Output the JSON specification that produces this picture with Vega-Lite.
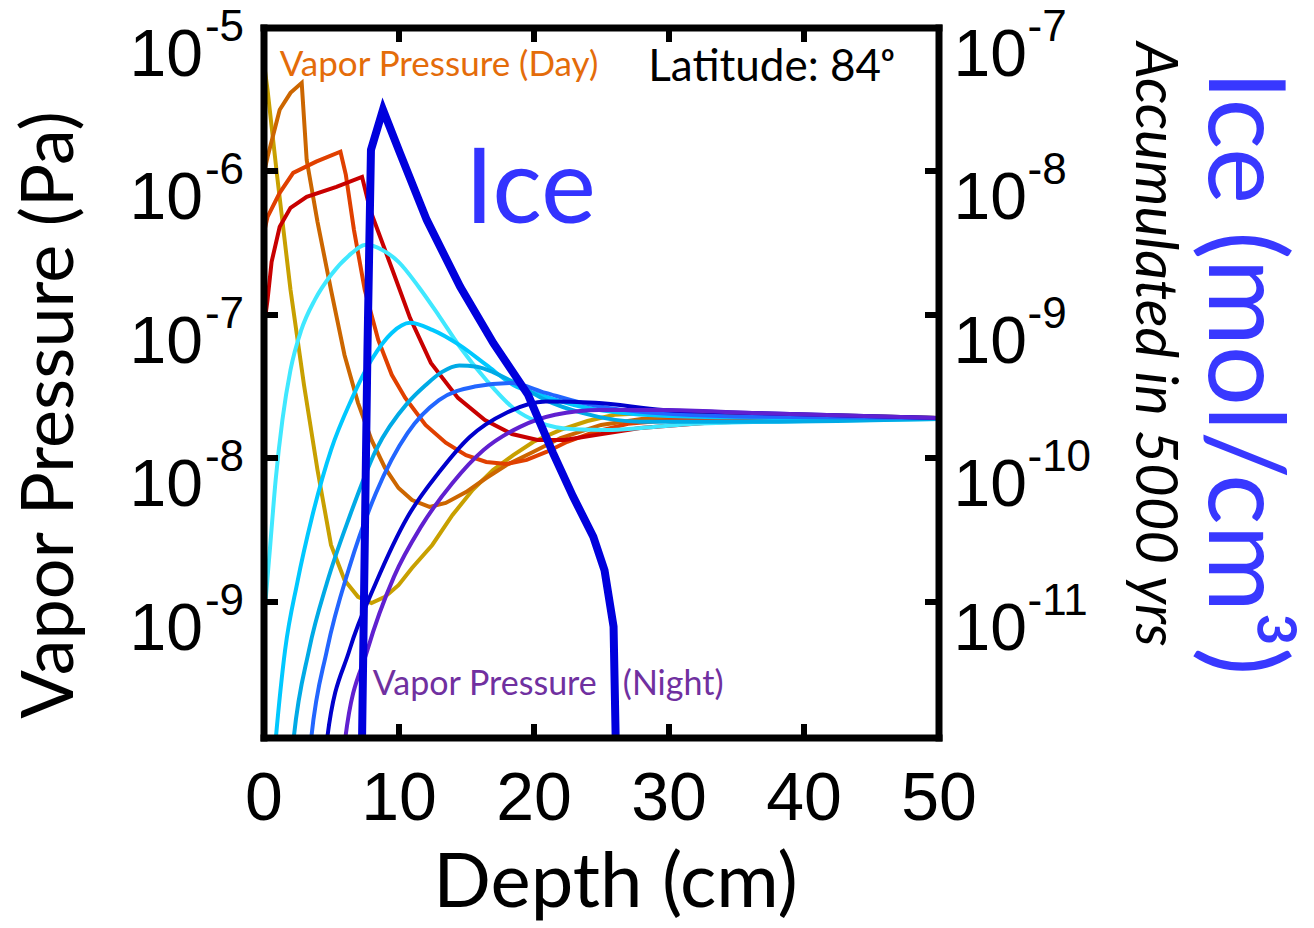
{
  "$schema": "https://vega.github.io/schema/vega-lite/v6.json",
  "width": 675,
  "height": 710,
  "autosize": {"type": "none"},
  "padding": {"left": 263.5, "top": 27.5, "right": 375.5, "bottom": 190.5},
  "background": "white",
  "config": {
    "view": {"stroke": null},
    "axis": {"grid": false, "labelColor": "black", "titleColor": "black", "tickColor": "black", "domainColor": "black", "labelFlush": false, "labelOverlap": false}
  },
  "datasets": {
    "vp": [
      {"s": "d1", "d": 0, "p": 5.96e-6}, {"s": "d1", "d": 0.3, "p": 3.67e-6}, {"s": "d1", "d": 1, "p": 9.38e-7}, {"s": "d1", "d": 2, "p": 1.48e-7}, {"s": "d1", "d": 3, "p": 3.21e-8}, {"s": "d1", "d": 4, "p": 8.2e-9}, {"s": "d1", "d": 5, "p": 2.46e-9}, {"s": "d1", "d": 6, "p": 1.4e-9}, {"s": "d1", "d": 7, "p": 1.07e-9}, {"s": "d1", "d": 8, "p": 9.68e-10}, {"s": "d1", "d": 9, "p": 1.07e-9}, {"s": "d1", "d": 10, "p": 1.29e-9}, {"s": "d1", "d": 11, "p": 1.7e-9}, {"s": "d1", "d": 12.5, "p": 2.46e-9}, {"s": "d1", "d": 14, "p": 3.98e-9}, {"s": "d1", "d": 15.5, "p": 5.96e-9}, {"s": "d1", "d": 17, "p": 8.2e-9}, {"s": "d1", "d": 18.5, "p": 1.04e-8}, {"s": "d1", "d": 20, "p": 1.29e-8}, {"s": "d1", "d": 22, "p": 1.56e-8}, {"s": "d1", "d": 24, "p": 1.8e-8}, {"s": "d1", "d": 26, "p": 1.99e-8}, {"s": "d1", "d": 30, "p": 2.08e-8}, {"s": "d1", "d": 35, "p": 2.05e-8}, {"s": "d1", "d": 40, "p": 1.99e-8}, {"s": "d1", "d": 45, "p": 1.94e-8}, {"s": "d1", "d": 50, "p": 1.89e-8},
      {"s": "d2", "d": 0, "p": 9.38e-7}, {"s": "d2", "d": 0.3, "p": 1.25e-6}, {"s": "d2", "d": 1.2, "p": 2.67e-6}, {"s": "d2", "d": 2, "p": 3.5e-6}, {"s": "d2", "d": 2.83, "p": 4.11e-6}, {"s": "d2", "d": 3.2, "p": 1.19e-6}, {"s": "d2", "d": 4, "p": 4.41e-7}, {"s": "d2", "d": 5, "p": 1.48e-7}, {"s": "d2", "d": 6, "p": 5.2e-8}, {"s": "d2", "d": 7, "p": 2.41e-8}, {"s": "d2", "d": 8, "p": 1.33e-8}, {"s": "d2", "d": 9, "p": 8.47e-9}, {"s": "d2", "d": 10, "p": 6.14e-9}, {"s": "d2", "d": 11, "p": 5.06e-9}, {"s": "d2", "d": 12.3, "p": 4.53e-9}, {"s": "d2", "d": 13.5, "p": 4.83e-9}, {"s": "d2", "d": 15, "p": 5.75e-9}, {"s": "d2", "d": 16.5, "p": 7.21e-9}, {"s": "d2", "d": 18, "p": 8.89e-9}, {"s": "d2", "d": 20, "p": 1.1e-8}, {"s": "d2", "d": 22, "p": 1.37e-8}, {"s": "d2", "d": 25, "p": 1.69e-8}, {"s": "d2", "d": 28, "p": 1.86e-8}, {"s": "d2", "d": 32, "p": 1.94e-8}, {"s": "d2", "d": 40, "p": 1.92e-8}, {"s": "d2", "d": 50, "p": 1.89e-8},
      {"s": "d3", "d": 0, "p": 3.58e-7}, {"s": "d3", "d": 0.3, "p": 4.78e-7}, {"s": "d3", "d": 1.2, "p": 7.03e-7}, {"s": "d3", "d": 2.2, "p": 9.68e-7}, {"s": "d3", "d": 3.9, "p": 1.16e-6}, {"s": "d3", "d": 5.7, "p": 1.36e-6}, {"s": "d3", "d": 6.1, "p": 9.38e-7}, {"s": "d3", "d": 6.7, "p": 3.88e-7}, {"s": "d3", "d": 7.5, "p": 1.48e-7}, {"s": "d3", "d": 8.5, "p": 6.62e-8}, {"s": "d3", "d": 9.5, "p": 3.78e-8}, {"s": "d3", "d": 10.5, "p": 2.61e-8}, {"s": "d3", "d": 12, "p": 1.69e-8}, {"s": "d3", "d": 13.5, "p": 1.27e-8}, {"s": "d3", "d": 15, "p": 1.04e-8}, {"s": "d3", "d": 16.5, "p": 9.33e-9}, {"s": "d3", "d": 18, "p": 9.04e-9}, {"s": "d3", "d": 19.5, "p": 9.64e-9}, {"s": "d3", "d": 21, "p": 1.1e-8}, {"s": "d3", "d": 22.5, "p": 1.29e-8}, {"s": "d3", "d": 24.5, "p": 1.51e-8}, {"s": "d3", "d": 27, "p": 1.72e-8}, {"s": "d3", "d": 31, "p": 1.86e-8}, {"s": "d3", "d": 40, "p": 1.91e-8}, {"s": "d3", "d": 50, "p": 1.89e-8},
      {"s": "d4", "d": 0, "p": 7.78e-8}, {"s": "d4", "d": 0.3, "p": 1.26e-7}, {"s": "d4", "d": 0.6, "p": 2.32e-7}, {"s": "d4", "d": 1.2, "p": 4.07e-7}, {"s": "d4", "d": 2, "p": 5.52e-7}, {"s": "d4", "d": 3.2, "p": 6.59e-7}, {"s": "d4", "d": 5.4, "p": 7.74e-7}, {"s": "d4", "d": 7.3, "p": 9.08e-7}, {"s": "d4", "d": 7.9, "p": 5.35e-7}, {"s": "d4", "d": 8.5, "p": 3.76e-7}, {"s": "d4", "d": 9.6, "p": 1.98e-7}, {"s": "d4", "d": 10.85, "p": 9.44e-8}, {"s": "d4", "d": 12.4, "p": 4.58e-8}, {"s": "d4", "d": 14.4, "p": 2.61e-8}, {"s": "d4", "d": 16.4, "p": 1.83e-8}, {"s": "d4", "d": 18.4, "p": 1.46e-8}, {"s": "d4", "d": 20.3, "p": 1.33e-8}, {"s": "d4", "d": 22.3, "p": 1.33e-8}, {"s": "d4", "d": 24.6, "p": 1.44e-8}, {"s": "d4", "d": 27.9, "p": 1.61e-8}, {"s": "d4", "d": 32.9, "p": 1.75e-8}, {"s": "d4", "d": 39.5, "p": 1.83e-8}, {"s": "d4", "d": 50, "p": 1.89e-8},
      {"s": "n1", "d": 0, "p": 6.81e-10}, {"s": "n1", "d": 0.25, "p": 1.29e-9}, {"s": "n1", "d": 0.5, "p": 2.46e-9}, {"s": "n1", "d": 0.9, "p": 6.98e-9}, {"s": "n1", "d": 1.4, "p": 1.83e-8}, {"s": "n1", "d": 2, "p": 4.09e-8}, {"s": "n1", "d": 2.8, "p": 7.78e-8}, {"s": "n1", "d": 3.8, "p": 1.26e-7}, {"s": "n1", "d": 5, "p": 1.88e-7}, {"s": "n1", "d": 6.3, "p": 2.55e-7}, {"s": "n1", "d": 7.6, "p": 3.05e-7}, {"s": "n1", "d": 8.8, "p": 2.81e-7}, {"s": "n1", "d": 10, "p": 2.32e-7}, {"s": "n1", "d": 11.5, "p": 1.55e-7}, {"s": "n1", "d": 13, "p": 9.75e-8}, {"s": "n1", "d": 14.5, "p": 6.01e-8}, {"s": "n1", "d": 16.5, "p": 3.48e-8}, {"s": "n1", "d": 18.5, "p": 2.22e-8}, {"s": "n1", "d": 20.5, "p": 1.75e-8}, {"s": "n1", "d": 23, "p": 1.58e-8}, {"s": "n1", "d": 25.5, "p": 1.56e-8}, {"s": "n1", "d": 28, "p": 1.61e-8}, {"s": "n1", "d": 32, "p": 1.72e-8}, {"s": "n1", "d": 40, "p": 1.8e-8}, {"s": "n1", "d": 50, "p": 1.86e-8},
      {"s": "n2", "d": 0.6, "p": 5e-11}, {"s": "n2", "d": 0.9, "p": 1.07e-10}, {"s": "n2", "d": 1.6, "p": 4.55e-10}, {"s": "n2", "d": 2.5, "p": 1.34e-9}, {"s": "n2", "d": 3.6, "p": 3.87e-9}, {"s": "n2", "d": 5, "p": 1.13e-8}, {"s": "n2", "d": 6.5, "p": 2.52e-8}, {"s": "n2", "d": 8, "p": 4.81e-8}, {"s": "n2", "d": 9.5, "p": 7.41e-8}, {"s": "n2", "d": 10.85, "p": 8.71e-8}, {"s": "n2", "d": 12.5, "p": 7.78e-8}, {"s": "n2", "d": 14.5, "p": 6.11e-8}, {"s": "n2", "d": 16.5, "p": 4.43e-8}, {"s": "n2", "d": 18.5, "p": 3.21e-8}, {"s": "n2", "d": 20.5, "p": 2.74e-8}, {"s": "n2", "d": 23, "p": 2.33e-8}, {"s": "n2", "d": 26, "p": 2.08e-8}, {"s": "n2", "d": 30, "p": 1.95e-8}, {"s": "n2", "d": 38, "p": 1.89e-8}, {"s": "n2", "d": 50, "p": 1.86e-8},
      {"s": "n3", "d": 1.9, "p": 5e-11}, {"s": "n3", "d": 2.22, "p": 1.07e-10}, {"s": "n3", "d": 3.37, "p": 4.55e-10}, {"s": "n3", "d": 4.7, "p": 1.34e-9}, {"s": "n3", "d": 6.37, "p": 3.87e-9}, {"s": "n3", "d": 8.33, "p": 1.13e-8}, {"s": "n3", "d": 10.68, "p": 2.41e-8}, {"s": "n3", "d": 12, "p": 3.2e-8}, {"s": "n3", "d": 13.2, "p": 3.95e-8}, {"s": "n3", "d": 14.5, "p": 4.4e-8}, {"s": "n3", "d": 15.8, "p": 4.3e-8}, {"s": "n3", "d": 17, "p": 3.95e-8}, {"s": "n3", "d": 18.3, "p": 3.45e-8}, {"s": "n3", "d": 20.9, "p": 2.52e-8}, {"s": "n3", "d": 23.6, "p": 2.05e-8}, {"s": "n3", "d": 27.9, "p": 1.78e-8}, {"s": "n3", "d": 36.2, "p": 1.78e-8}, {"s": "n3", "d": 50, "p": 1.86e-8},
      {"s": "n4", "d": 3.2, "p": 5e-11}, {"s": "n4", "d": 3.52, "p": 1.07e-10}, {"s": "n4", "d": 4.7, "p": 4.55e-10}, {"s": "n4", "d": 6.37, "p": 1.73e-9}, {"s": "n4", "d": 8.33, "p": 5.67e-9}, {"s": "n4", "d": 10.68, "p": 1.49e-8}, {"s": "n4", "d": 13, "p": 2.52e-8}, {"s": "n4", "d": 15.65, "p": 3.13e-8}, {"s": "n4", "d": 18.3, "p": 3.32e-8}, {"s": "n4", "d": 20.9, "p": 2.83e-8}, {"s": "n4", "d": 23.6, "p": 2.41e-8}, {"s": "n4", "d": 27.9, "p": 2.09e-8}, {"s": "n4", "d": 36.2, "p": 1.93e-8}, {"s": "n4", "d": 50, "p": 1.89e-8},
      {"s": "n5", "d": 4.4, "p": 5e-11}, {"s": "n5", "d": 4.7, "p": 1.07e-10}, {"s": "n5", "d": 6.37, "p": 4.55e-10}, {"s": "n5", "d": 8.33, "p": 1.34e-9}, {"s": "n5", "d": 10.68, "p": 3.87e-9}, {"s": "n5", "d": 13, "p": 7.9e-9}, {"s": "n5", "d": 15.3, "p": 1.4e-8}, {"s": "n5", "d": 17.97, "p": 2.05e-8}, {"s": "n5", "d": 20.9, "p": 2.46e-8}, {"s": "n5", "d": 24.6, "p": 2.41e-8}, {"s": "n5", "d": 29.6, "p": 2.15e-8}, {"s": "n5", "d": 36.2, "p": 2.05e-8}, {"s": "n5", "d": 50, "p": 1.89e-8},
      {"s": "n6", "d": 5.7, "p": 5e-11}, {"s": "n6", "d": 6.04, "p": 1.07e-10}, {"s": "n6", "d": 7.7, "p": 4.55e-10}, {"s": "n6", "d": 9.67, "p": 1.48e-9}, {"s": "n6", "d": 11.67, "p": 3.3e-9}, {"s": "n6", "d": 14, "p": 6.65e-9}, {"s": "n6", "d": 16.3, "p": 1.13e-8}, {"s": "n6", "d": 19, "p": 1.64e-8}, {"s": "n6", "d": 21.6, "p": 1.99e-8}, {"s": "n6", "d": 24.9, "p": 2.15e-8}, {"s": "n6", "d": 29.6, "p": 2.15e-8}, {"s": "n6", "d": 36.2, "p": 2.05e-8}, {"s": "n6", "d": 50, "p": 1.89e-8}
    ],
    "ice": [
      {"d": 7.25, "ice": 5e-13}, {"d": 7.7, "ice": 5.62e-10}, {"d": 7.96, "ice": 1.4e-8}, {"d": 8.85, "ice": 2.67e-8}, {"d": 10.11, "ice": 1.33e-8}, {"d": 12.09, "ice": 4.55e-9}, {"d": 14.56, "ice": 1.56e-9}, {"d": 17.03, "ice": 6.28e-10}, {"d": 19.6, "ice": 2.74e-10}, {"d": 21.44, "ice": 1.08e-10}, {"d": 22.93, "ice": 5.35e-11}, {"d": 24.43, "ice": 2.81e-11}, {"d": 25.26, "ice": 1.64e-11}, {"d": 25.93, "ice": 6.62e-12}, {"d": 26.09, "ice": 1.07e-12}, {"d": 26.12, "ice": 6.3e-13}
    ],
    "notes": [
      {"k": "day", "d": 1.2, "p": 5.49e-6, "t": "Vapor Pressure (Day)"},
      {"k": "lat", "d": 28.5, "p": 5.24e-6, "t": "Latitude: 84ᵒ"},
      {"k": "ice", "d": 14.9, "p": 7.14e-7, "t": "Ice"},
      {"k": "night", "d": 8.1, "p": 2.6e-10, "t": "Vapor Pressure \u00a0 (Night)"}
    ]
  },
  "layer": [
    {
      "encoding": {
        "x": {"field": "d", "type": "quantitative", "scale": {"domain": [0, 50], "nice": false, "zero": false},
          "axis": {"orient": "bottom", "values": [0, 10, 20, 30, 40, 50], "format": "d", "labelFont": "Liberation Sans", "labelFontSize": 68, "labelPadding": 42, "tickSize": -14, "tickWidth": 6, "domainWidth": 7, "domainCap": "square", "zindex": 1,
            "title": "Depth (cm)", "titleFont": "Lato", "titleFontSize": 76, "titleFontWeight": "normal", "titleX": 351.5, "titleY": 169, "titleAlign": "center", "titleBaseline": "alphabetic"}},
        "y": {"field": "p", "type": "quantitative", "scale": {"type": "log", "domain": [1.117e-10, 1e-5], "nice": false},
          "axis": {"orient": "left", "values": [1e-9, 1e-8, 1e-7, 1e-6, 1e-5], "labelExpr": "'10'", "labelFont": "Liberation Sans", "labelFontSize": 66, "labelPadding": 75, "labelOffset": 28, "labelBaseline": "middle", "tickSize": -14, "tickWidth": 6, "domainWidth": 7, "domainCap": "square", "zindex": 1,
            "title": "Vapor Pressure (Pa)", "titleFont": "Lato", "titleFontSize": 72, "titleFontWeight": "normal", "titleAngle": -90, "titleX": -213, "titleY": 387, "titleAlign": "center", "titleBaseline": "middle"}}
      },
      "layer": [
        {
          "data": {"name": "vp"},
          "transform": [{"filter": "indexof(datum.s, 'd') == 0"}],
          "mark": {"type": "line", "strokeWidth": 4, "clip": true},
          "encoding": {"color": {"field": "s", "type": "nominal", "legend": null,
            "scale": {"domain": ["d1", "d2", "d3", "d4", "n1", "n2", "n3", "n4", "n5", "n6"], "range": ["#C8A000", "#CC6600", "#E04000", "#C80000", "#40E8FF", "#00C8FF", "#00AAE6", "#2266FF", "#0000CC", "#6020D0"]}}}
        },
        {
          "data": {"name": "vp"},
          "transform": [{"filter": "indexof(datum.s, 'n') == 0"}],
          "mark": {"type": "line", "strokeWidth": 4, "clip": true, "interpolate": "monotone"},
          "encoding": {"color": {"field": "s", "type": "nominal", "legend": null}}
        },
        {
          "data": {"name": "notes"},
          "transform": [{"filter": "datum.k == 'day'"}],
          "mark": {"type": "text", "align": "left", "baseline": "middle", "font": "Lato", "fontSize": 35, "color": "#E46C0A"},
          "encoding": {"text": {"field": "t"}}
        },
        {
          "data": {"name": "notes"},
          "transform": [{"filter": "datum.k == 'lat'"}],
          "mark": {"type": "text", "align": "left", "baseline": "middle", "font": "Lato", "fontSize": 44, "color": "black"},
          "encoding": {"text": {"field": "t"}}
        },
        {
          "data": {"name": "notes"},
          "transform": [{"filter": "datum.k == 'ice'"}],
          "mark": {"type": "text", "align": "left", "baseline": "middle", "font": "Lato", "fontSize": 104, "color": "#3333FF"},
          "encoding": {"text": {"field": "t"}}
        },
        {
          "data": {"name": "notes"},
          "transform": [{"filter": "datum.k == 'night'"}],
          "mark": {"type": "text", "align": "left", "baseline": "middle", "font": "Lato", "fontSize": 34, "color": "#7030A0"},
          "encoding": {"text": {"field": "t"}}
        }
      ]
    },
    {
      "data": {"name": "ice"},
      "mark": {"type": "line", "strokeWidth": 8, "color": "#0000DD", "clip": true},
      "encoding": {
        "x": {"field": "d", "type": "quantitative", "scale": {"domain": [0, 50], "nice": false, "zero": false},
          "axis": {"orient": "top", "values": [0, 10, 20, 30, 40, 50], "labels": false, "tickSize": -14, "tickWidth": 6, "domainWidth": 7, "domainCap": "square", "zindex": 1, "title": null}},
        "y": {"field": "ice", "type": "quantitative", "scale": {"type": "log", "domain": [1.117e-12, 1e-7], "nice": false},
          "axis": {"orient": "right", "values": [1e-11, 1e-10, 1e-9, 1e-8, 1e-7], "labelExpr": "'10'", "labelFont": "Liberation Sans", "labelFontSize": 66, "labelPadding": 28.5, "labelOffset": 28, "labelBaseline": "middle", "labelAlign": "left", "tickSize": -14, "tickWidth": 6, "domainWidth": 7, "domainCap": "square", "zindex": 1,
            "title": "Ice (mol/cm³)", "titleColor": "#3838FF", "titleFont": "Lato", "titleFontSize": 106, "titleFontWeight": "normal", "titleAngle": 90, "titleX": 302, "titleY": 345, "titleAlign": "center", "titleBaseline": "middle"}}
      }
    },
    {
      "data": {"name": "vp"},
      "mark": {"type": "point", "opacity": 0},
      "encoding": {
        "x": {"field": "d", "type": "quantitative", "scale": {"domain": [0, 50], "nice": false, "zero": false}, "axis": null},
        "y": {"field": "p", "type": "quantitative", "scale": {"type": "log", "domain": [1.117e-10, 1e-5], "nice": false},
          "axis": {"orient": "left", "values": [1e-9, 1e-8, 1e-7, 1e-6, 1e-5], "labelExpr": "'' + round(log(datum.value) / LN10)", "labelFont": "Liberation Sans", "labelFontSize": 44, "labelPadding": 20, "labelOffset": 0, "labelBaseline": "middle", "ticks": false, "domain": false, "title": null, "zindex": 1}}
      }
    },
    {
      "data": {"name": "ice"},
      "mark": {"type": "point", "opacity": 0},
      "encoding": {
        "x": {"field": "d", "type": "quantitative", "scale": {"domain": [0, 50], "nice": false, "zero": false}, "axis": null},
        "y": {"field": "ice", "type": "quantitative", "scale": {"type": "log", "domain": [1.117e-12, 1e-7], "nice": false},
          "axis": {"orient": "right", "values": [1e-11, 1e-10, 1e-9, 1e-8, 1e-7], "labelExpr": "'' + round(log(datum.value) / LN10)", "labelFont": "Liberation Sans", "labelFontSize": 44, "labelPadding": 88.5, "labelOffset": 0, "labelBaseline": "middle", "labelAlign": "left", "ticks": false, "domain": false, "zindex": 1,
            "title": "Accumulated in 5000 yrs", "titleFont": "Lato", "titleFontStyle": "italic", "titleFontSize": 58, "titleFontWeight": "normal", "titleAngle": 90, "titleX": 213.5, "titleY": 316.5, "titleAlign": "center", "titleBaseline": "middle"}}
      }
    }
  ],
  "resolve": {"scale": {"x": "independent", "y": "independent"}, "axis": {"x": "independent", "y": "independent"}}
}
